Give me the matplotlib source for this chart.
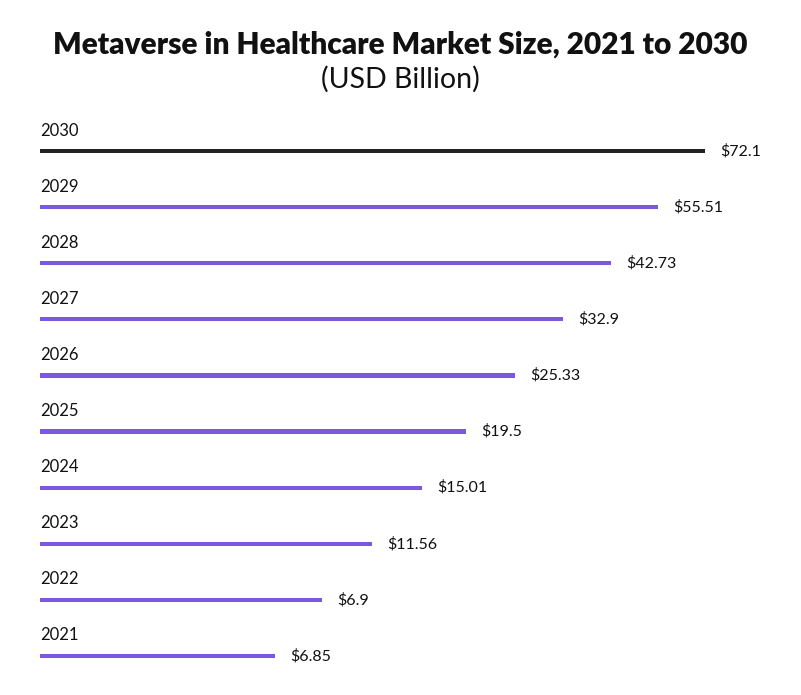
import matplotlib.pyplot as plt

# market size values shown as labels (USD billion)
years = ["2021", "2022", "2023", "2024", "2025", "2026", "2027", "2028", "2029", "2030"]
values = [6.85, 6.9, 11.56, 15.01, 19.5, 25.33, 32.9, 42.73, 55.51, 72.1]
# drawn bar lengths (the chart does not scale them to the values)
bar_lengths = [235, 282, 332, 382, 426, 475, 523, 571, 618, 665]

purple = "#7B58E0"
dark = "#222222"
colors = [purple] * 9 + [dark]

plt.rcParams['font.family'] = ['Lato', 'DejaVu Sans']

fig = plt.figure(figsize=(8.01, 6.95), dpi=100)
ax = fig.add_axes([40 / 801, 11 / 695, 730 / 801, 561 / 695])

ypos = list(range(len(years)))
ax.barh(ypos, bar_lengths, height=0.075, color=colors, left=0)
ax.set_xlim(0, 730)
ax.set_ylim(-0.5, len(years) - 0.5)

for y, yr, val, ln in zip(ypos, years, values, bar_lengths):
    ax.annotate(yr, (0, y), xytext=(0, 9), textcoords="offset points",
                ha="left", va="bottom", fontsize=12, color="#111111")
    ax.annotate(f"${val:g}", (ln, y), xytext=(11, 0), textcoords="offset points",
                ha="left", va="center", fontsize=11.5, color="#111111")

ax.axis("off")

fig.text(0.5, 1 - 45 / 695, "Metaverse in Healthcare Market Size, 2021 to 2030",
         ha="center", va="center", fontsize=21.5, fontweight="heavy", color="#111111")
fig.text(0.5, 1 - 79 / 695, "(USD Billion)", ha="center", va="center",
         fontsize=20.5, color="#111111")

fig.savefig("out.png", dpi=100)
